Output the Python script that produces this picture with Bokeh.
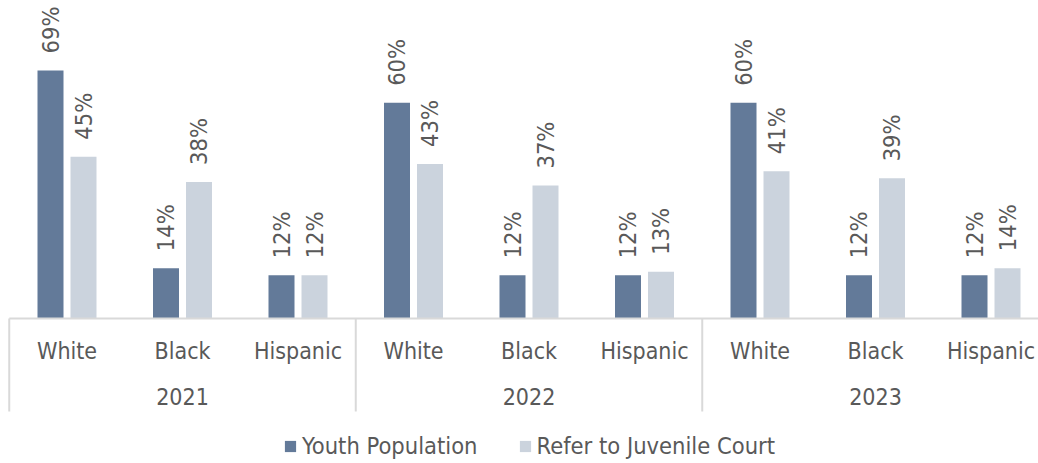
from bokeh.plotting import figure
from bokeh.models import Range1d, ColumnDataSource, Legend, LegendItem
from bokeh.core.properties import value
from bokeh.embed import file_html
from bokeh.resources import INLINE

years = ["2021", "2022", "2023"]
races = ["White", "Black", "Hispanic"]
youth_population = [69, 14, 12, 60, 12, 12, 60, 12, 12]
refer_to_juvenile_court = [45, 38, 12, 43, 37, 13, 41, 39, 14]
series_names = ["Youth Population", "Refer to Juvenile Court"]

DARK = "#637A99"
LIGHT = "#CBD3DD"
TEXT = "#595959"
GRID = "#D9D9D9"
FONT = "DejaVu Sans Condensed"

W, H = 1038, 463
cat_px = 115.5
x0_px = 8.75
base_px = 318.0
per_unit = 3.594

xr = Range1d(-x0_px / cat_px, (W - x0_px) / cat_px)
yr = Range1d(-(H - base_px) / per_unit, base_px / per_unit)

p = figure(width=W, height=H, x_range=xr, y_range=yr, output_backend="svg",
           toolbar_location=None, x_axis_location=None, y_axis_location=None,
           min_border=0, min_border_left=0, min_border_right=0,
           min_border_top=0, min_border_bottom=0, outline_line_color=None)
p.grid.visible = False

n = len(years) * len(races)
centers = [i + 0.5 for i in range(n)]
off = 16.5 / cat_px
bw = 26.0 / cat_px

src = ColumnDataSource(dict(
    xd=[c - off for c in centers], xl=[c + off for c in centers],
    yp=youth_population, rc=refer_to_juvenile_court,
    tp=[f"{v}%" for v in youth_population],
    tr=[f"{v}%" for v in refer_to_juvenile_court],
))

r1 = p.vbar(x="xd", top="yp", bottom=0, width=bw, source=src,
            fill_color=DARK, line_color=None)
r2 = p.vbar(x="xl", top="rc", bottom=0, width=bw, source=src,
            fill_color=LIGHT, line_color=None)

for xcol, ycol, tcol in (("xd", "yp", "tp"), ("xl", "rc", "tr")):
    p.text(x=xcol, y=ycol, text=tcol, source=src, angle=1.5707963,
           text_align="left", text_baseline="middle", y_offset=-17,
           text_font=value(FONT), text_font_size="23.5px", text_color=TEXT)

# baseline of the category axis and group separators
p.segment(x0=[0], y0=[0], x1=[n], y1=[0], line_color=GRID, line_width=2)
sep_bottom = -(411 - base_px) / per_unit
p.segment(x0=[0, 3, 6, 9], y0=[0] * 4, x1=[0, 3, 6, 9], y1=[sep_bottom] * 4,
          line_color=GRID, line_width=2)

race_y = -(350 - base_px) / per_unit
year_y = -(396 - base_px) / per_unit
p.text(x=centers, y=[race_y] * n, text=races * len(years),
       text_align="center", text_baseline="middle",
       text_font=value(FONT), text_font_size="23px", text_color=TEXT)
p.text(x=[1.5, 4.5, 7.5], y=[year_y] * 3, text=years,
       text_align="center", text_baseline="middle",
       text_font=value(FONT), text_font_size="23px", text_color=TEXT)

legend = Legend(items=[LegendItem(label=series_names[0], renderers=[r1]),
                       LegendItem(label=series_names[1], renderers=[r2])],
                orientation="horizontal", location=(283, 3),
                glyph_width=14, glyph_height=14, label_standoff=5, spacing=40,
                padding=0, margin=0, border_line_alpha=0,
                background_fill_alpha=0,
                label_text_font=FONT, label_text_font_size="23.5px",
                label_text_color=TEXT)
p.add_layout(legend)

open("out.html", "w").write(file_html(p, INLINE))
